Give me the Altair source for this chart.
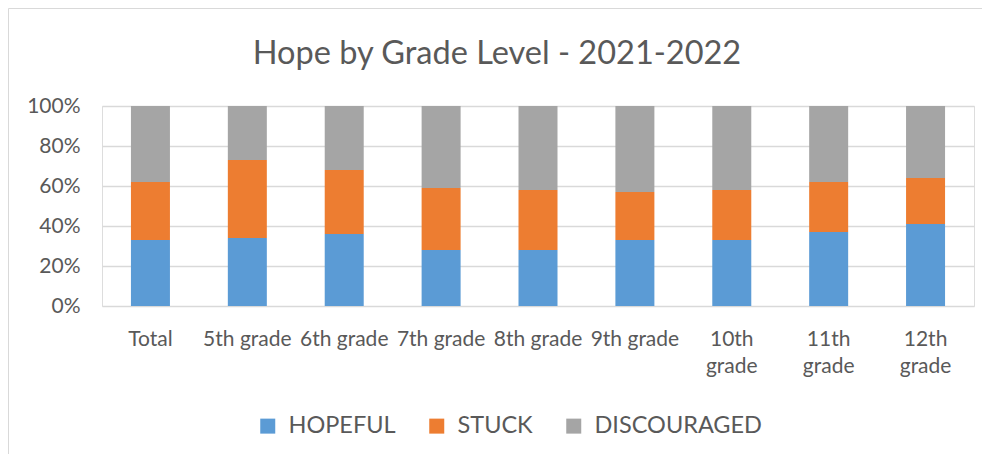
import altair as alt
import pandas as pd

categories = ["Total", "5th grade", "6th grade", "7th grade", "8th grade",
              "9th grade", "10th grade", "11th grade", "12th grade"]
series = ["HOPEFUL", "STUCK", "DISCOURAGED"]
hopeful = [33, 34, 36, 28, 28, 33, 33, 37, 41]
stuck = [29, 39, 32, 31, 30, 24, 25, 25, 23]
discouraged = [38, 27, 32, 41, 42, 43, 42, 38, 36]
colors = ["#5B9BD5", "#ED7D31", "#A5A5A5"]
y_ticks = [0, 20, 40, 60, 80, 100]

rows = []
for i, c in enumerate(categories):
    for j, (s, vals) in enumerate(zip(series, [hopeful, stuck, discouraged])):
        rows.append({"grade": c, "series": s, "value": vals[i], "order": j})
df = pd.DataFrame(rows)

TXT = "#595959"
FONT = "Lato"

bars = alt.Chart(df).mark_bar(size=39).encode(
    x=alt.X("grade:N", sort=categories, title=None,
            scale=alt.Scale(paddingInner=0.6, paddingOuter=0.3),
            axis=alt.Axis(domain=False, ticks=False, labelAngle=0,
                          labelPadding=22, labelFontSize=21, labelColor=TXT,
                          labelFont=FONT, labelLineHeight=27,
                          labelExpr="indexof(datum.label, '1') == 0 ? split(datum.label, ' ') : datum.label")),
    y=alt.Y("value:Q", stack="zero", title=None,
            scale=alt.Scale(domain=[0, 100], nice=False),
            axis=alt.Axis(values=y_ticks, domain=False, ticks=False,
                          labelExpr="datum.value + '%'", labelPadding=22,
                          labelFontSize=21, labelColor=TXT, labelFont=FONT,
                          gridColor="#D9D9D9", gridWidth=1.3)),
    color=alt.Color("series:N", sort=series,
                    scale=alt.Scale(domain=series, range=colors),
                    legend=alt.Legend(title=None, orient="none", direction="horizontal",
                                      legendX=154, legendY=308,
                                      symbolType="square", symbolSize=225,
                                      symbolStrokeWidth=0, symbolOpacity=1,
                                      labelFontSize=23.5, labelColor=TXT, labelFont=FONT,
                                      labelOffset=9, columnPadding=29, labelLimit=400)),
    order=alt.Order("order:Q", sort="ascending"),
)

frame_df = pd.DataFrame({"f": [0]})
frame_top = alt.Chart(frame_df).mark_rule(stroke="#D9D9D9", strokeWidth=1).encode(
    x=alt.value(-93.5), x2=alt.value(1000), y=alt.value(-97.5)
)
frame_left = alt.Chart(frame_df).mark_rule(stroke="#D9D9D9", strokeWidth=1).encode(
    x=alt.value(-93.5), y=alt.value(-97.5), y2=alt.value(500)
)

chart = alt.layer(frame_top, frame_left, bars).properties(
    width=872, height=200,
    title=alt.TitleParams("Hope by Grade Level - 2021-2022", fontSize=32.5, font=FONT,
                          color=TXT, fontWeight="normal", anchor="middle",
                          frame="group", baseline="alphabetic", dx=-41, dy=88, offset=0),
    autosize=alt.AutoSizeParams(type="none"),
    padding={"left": 94, "top": 98, "right": 8, "bottom": 148},
).configure_view(stroke=None).configure(background="white")

chart.save("out.html", embed_options={"renderer": "svg", "actions": False})
